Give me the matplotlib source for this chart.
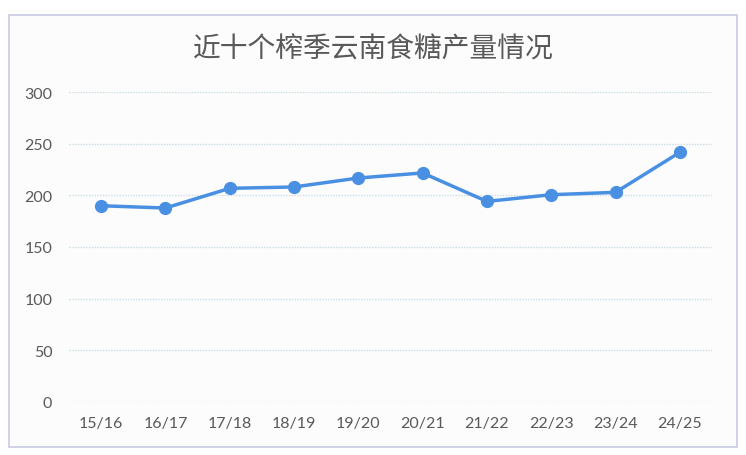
import matplotlib
matplotlib.use("Agg")
import matplotlib.pyplot as plt
from matplotlib.patches import Rectangle

plt.rcParams['font.family'] = ['Noto Sans CJK SC', 'DejaVu Sans']

categories = ["15/16", "16/17", "17/18", "18/19", "19/20", "20/21", "21/22", "22/23", "23/24", "24/25"]
production = [190.0, 187.8, 206.9, 208.2, 216.9, 221.8, 194.2, 200.7, 203.0, 241.8]
yticks = [0, 50, 100, 150, 200, 250, 300]
title = "近十个榨季云南食糖产量情况"

W, H = 746, 456
fig = plt.figure(figsize=(W / 100, H / 100), dpi=100)
fig.patch.set_facecolor("white")

# chart frame
frame = Rectangle((9 / W, 1 - 448 / H), (737 - 9) / W, (448 - 16) / H,
                  transform=fig.transFigure, facecolor="#fcfcfd",
                  edgecolor="#c9c9e6", linewidth=1.2, zorder=-10)
fig.add_artist(frame)

ax = fig.add_axes([69 / W, 1 - 402.7 / H, (712 - 69) / W, (402.7 - 93.3) / H])
ax.set_zorder(1)
ax.set_facecolor("none")

x = list(range(len(categories)))
ax.plot(x, production, color="#4a90e2", linewidth=2.5, marker="o",
        markersize=8.5, markerfacecolor="#4a90e2", markeredgecolor="#4a90e2",
        zorder=3, clip_on=False)

ax.set_xlim(-0.5, len(categories) - 0.5)
ax.set_ylim(0, 300)
ax.set_yticks(yticks)
ax.set_xticks(x)
ax.set_xticklabels(categories)
ax.grid(axis="y", color="#cddde3", linewidth=1.0, linestyle=(0, (1, 1)))
ax.set_axisbelow(True)
for s in ax.spines.values():
    s.set_visible(False)
ax.tick_params(axis="both", length=0, labelsize=11.5, colors="#595959")
ax.tick_params(axis="y", pad=12)
ax.tick_params(axis="x", pad=10)
for lab in ax.get_xticklabels() + ax.get_yticklabels():
    lab.set_fontfamily(["Lato", "DejaVu Sans"])

fig.text(373 / W, 1 - 50 / H, title, ha="center", va="center",
         fontsize=20, color="#595959", fontweight="light")

fig.savefig("out.png", dpi=100)
